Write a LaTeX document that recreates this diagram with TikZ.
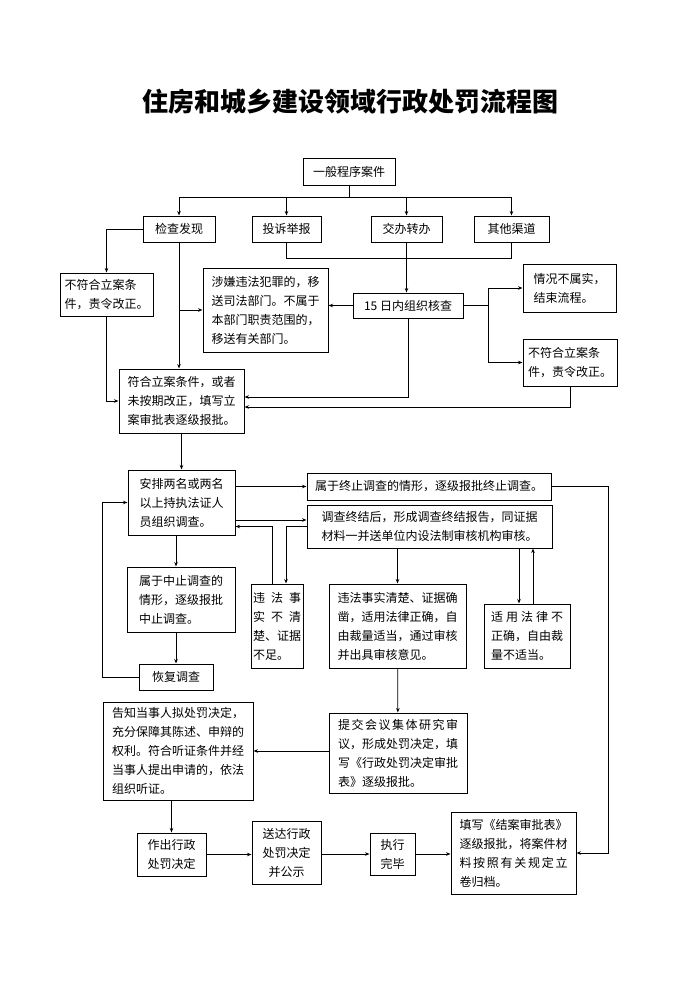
\documentclass[tikz,border=0pt]{standalone}
\usepackage{fontspec}
\setmainfont{Noto Sans CJK SC}
\usetikzlibrary{arrows.meta}

\begin{document}
\begin{tikzpicture}[x=1pt,y=-1pt,->,>={Stealth[length=4.5pt,width=3.5pt]},line width=0.8pt,
  font=\fontsize{12}{19}\selectfont,wh/.style 2 args={minimum width=#1pt,minimum height=#2pt}]
  \tikzstyle{box}=[draw=black,line width=1pt,inner sep=0pt,align=left]
  \useasboundingbox (0,0) rectangle (700,990);

  \node[font=\fontsize{26}{30}\selectfont\bfseries] (title) at (350,102) {住房和城乡建设领域行政处罚流程图};

  \node[box,wh={92}{27}]  (gen) at (349,171.5) {一般程序案件};
  \node[box,wh={72}{26}]  (jc)  at (179,229)   {检查发现};
  \node[box,wh={69}{26}]  (ts)  at (286.5,229) {投诉举报};
  \node[box,wh={71}{26}]  (jb)  at (406.5,229) {交办转办};
  \node[box,wh={75}{26}]  (qt)  at (511.5,229) {其他渠道};
  \node[box,wh={93}{43}]  (bf1) at (106.5,294.5) {不符合立案条\\件，责令改正。};
  \node[box,wh={125}{84}] (sx)  at (265.5,310) {涉嫌违法犯罪的，移\\送司法部门。不属于\\本部门职责范围的，\\移送有关部门。};
  \node[box,wh={110}{25}] (hc)  at (408,305.5) {15 日内组织核查};
  \node[box,wh={93}{48}]  (bs)  at (569.5,288) {情况不属实，\\结束流程。};
  \node[box,wh={94}{47}]  (bf2) at (570,362.5) {不符合立案条\\件，责令改正。};
  \node[box,wh={125}{64}] (fh)  at (181.5,401) {符合立案条件，或者\\未按期改正，填写立\\案审批表逐级报批。};

  \node[box,wh={107}{65}] (ap)  at (181.5,502.5) {安排两名或两名\\以上持执法证人\\员组织调查。};
  \node[box,wh={244}{27}] (zz)  at (429,486.5) {属于终止调查的情形，逐级报批终止调查。};
  \node[box,wh={245}{43}] (zj)  at (429.5,526.5) {调查终结后，形成调查终结报告，同证据\\材料一并送单位内设法制审核机构审核。};
  \node[box,wh={108}{65}] (zs)  at (181,599.5) {属于中止调查的\\情形，逐级报批\\中止调查。};
  \node[box,wh={74}{26}]  (hf)  at (176,677) {恢复调查};
  \node[box,wh={52}{84},text width=48pt] (bq) at (277,626) {违\hfill 法\hfill 事\\实\hfill 不\hfill 清\\楚、证据\\不足。};
  \node[box,wh={137}{84}] (qc)  at (397.5,626) {违法事实清楚、证据确\\凿，适用法律正确，自\\由裁量适当，通过审核\\并出具审核意见。};
  \node[box,wh={86}{64},text width=72pt] (bz) at (527,636) {适\hfill 用\hfill 法\hfill 律\hfill 不\\正确，自由裁\\量不适当。};

  \node[box,wh={150}{98}] (gz)  at (178,751) {告知当事人拟处罚决定，\\充分保障其陈述、申辩的\\权利。符合听证条件并经\\当事人提出申请的，依法\\组织听证。};
  \node[box,wh={138}{80},text width=120pt] (tj) at (398,753) {提\hfill 交\hfill 会\hfill 议\hfill 集\hfill 体\hfill 研\hfill 究\hfill 审\\议，形成处罚决定，填\\写《行政处罚决定审批\\表》逐级报批。};
  \node[box,wh={69}{43},align=center] (zc) at (171.5,854.5) {作出行政\\处罚决定};
  \node[box,wh={69}{63},align=center] (sd) at (286.5,852.5) {送达行政\\处罚决定\\并公示};
  \node[box,wh={45}{42},align=center] (zx) at (392.5,854) {执行\\完毕};
  \node[box,wh={125}{82},text width=108pt] (ja) at (513.5,853) {填写《结案审批表》\\逐级报批，将案件材\\料\hfill 按\hfill 照\hfill 有\hfill 关\hfill 规\hfill 定\hfill 立\\卷归档。};

  % 案件来源
  \coordinate (j0) at (gen.south |- 0,197);
  \draw[-] (gen) -- (j0);
  \draw (j0) -| (jc);
  \draw (j0) -| (ts);
  \draw (j0) -| (jb);
  \draw (j0) -| (qt);
  \coordinate (j1) at (0,258);
  \draw[-] (ts) |- (j1 -| qt.south) -- (qt);
  \draw (jb) -- (jb.south |- hc.north);
  \draw (hc.west) -- (hc.west -| sx.east);
  \draw (jc.west) -| (bf1);
  \draw (bf1) |- (fh);
  \draw (jc) -- (jc.south |- fh.north);
  \draw (jc.south |- sx.west) -- (sx.west);
  \draw (hc) |- ([yshift=4pt]fh.east);
  \draw (bf2) |- ([yshift=-6pt]fh.east);
  \coordinate (j3) at ([xshift=25pt]hc.east);
  \draw[-] (hc.east) -- (j3);
  \draw (j3) |- (bs);
  \draw (j3) |- (bf2);

  % 调查
  \draw (fh) -- (ap);
  \draw (zz.west -| ap.east) -- (zz);
  \coordinate (a1) at ([yshift=-17.5pt]ap.east);
  \draw (a1) -- (a1 -| zj.west);
  \draw ([xshift=-5pt]bq.north) |- (ap.east |- zj.west);
  \draw (zj.west) -| ([xshift=9pt]bq.north);
  \draw (qc.north |- zj.south) -- (qc);
  \coordinate (b1) at ([xshift=-8pt]bz.north);
  \coordinate (b2) at ([xshift=6pt]bz.north);
  \draw (b1 |- zj.south) -- (b1);
  \draw (b2) -- (b2 |- zj.south);
  \draw (hf.north |- ap.south) -- (hf.north |- zs.north);
  \draw (hf.north |- zs.south) -- (hf);
  \draw (hf.west) -- (hf.west -| 102,0) |- (ap.west);
  \draw (zz.east) -- (zz.east -| 608,0) |- (ja);

  % 决定与执行
  \draw (qc) -- (tj);
  \draw (tj.west |- gz.east) -- (gz);
  \draw (zc.north |- gz.south) -- (zc);
  \draw (zc.east) -- (zc.east -| sd.west);
  \draw (sd.east |- zx.west) -- (zx);
  \draw (zx.east) -- (zx.east -| ja.west);
\end{tikzpicture}
\end{document}
